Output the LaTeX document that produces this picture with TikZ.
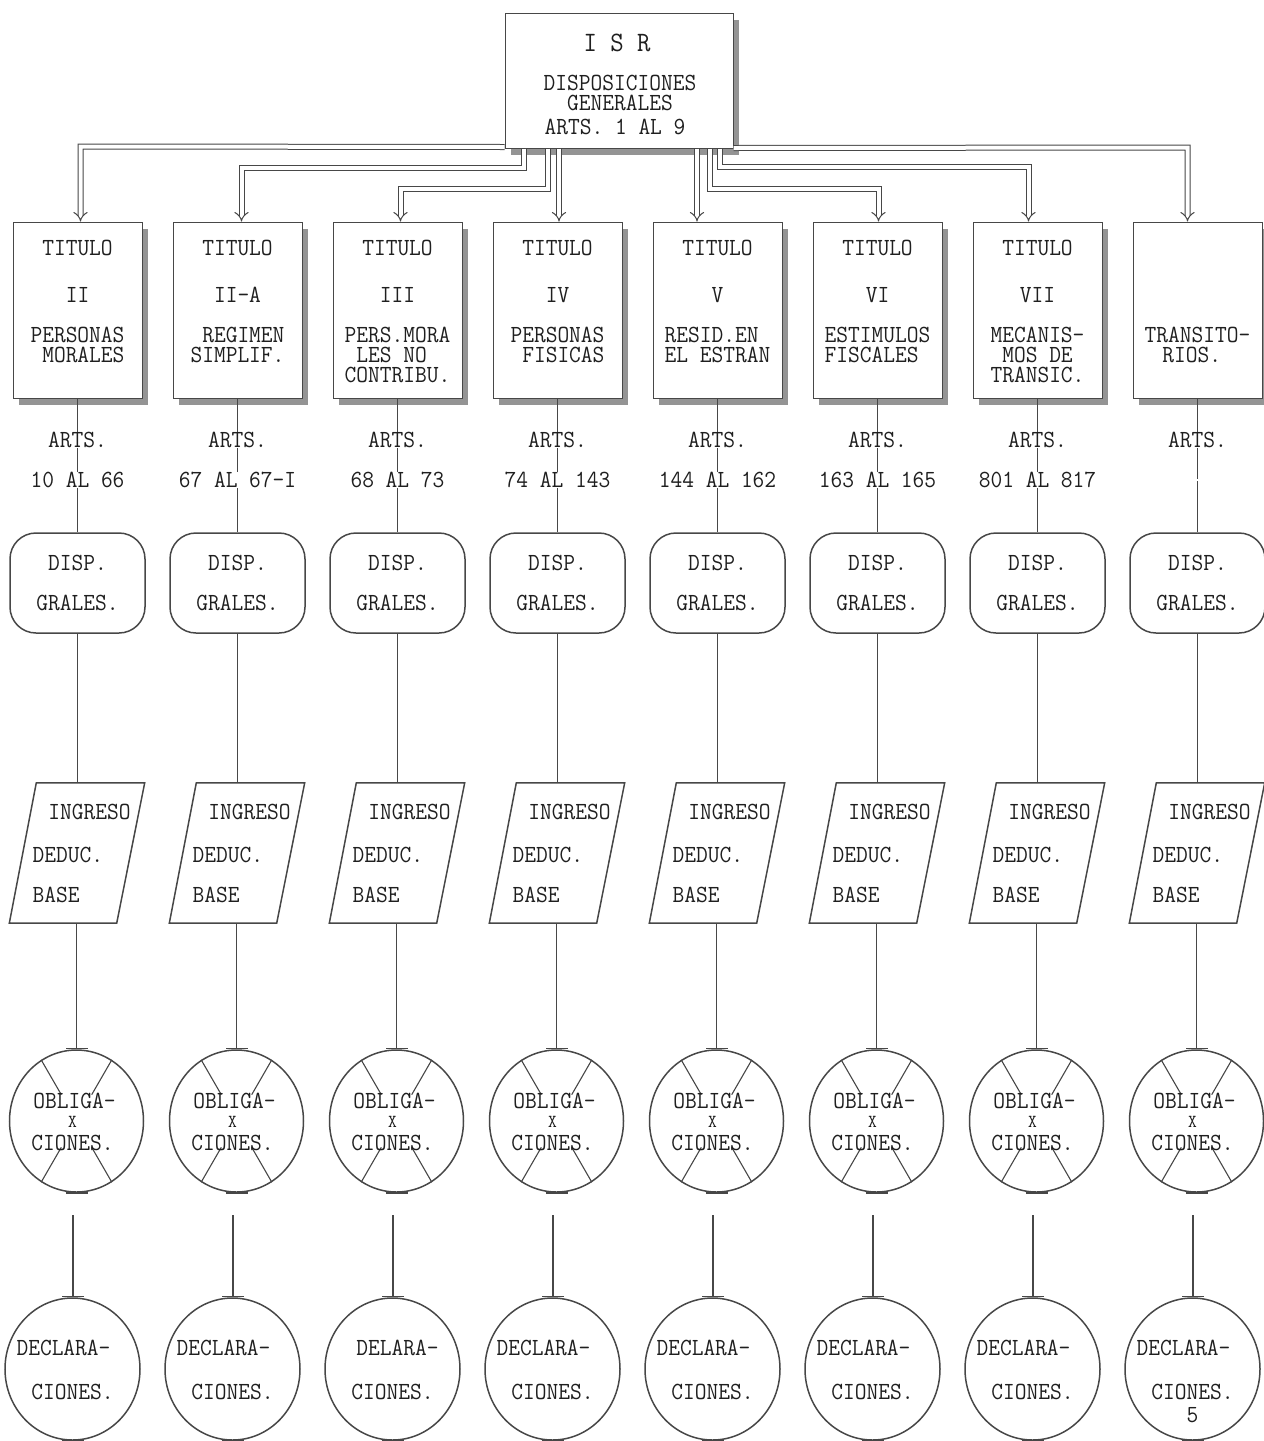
\documentclass[tikz,border=0pt]{standalone}
\usepackage{fontspec}
\usetikzlibrary{arrows.meta,shapes.geometric,shadows,calc}
\newcommand\blk{\hphantom{X}}
\begin{document}
\begin{tikzpicture}[x=1pt,y=-1pt,
  ln/.style={draw=black!72, line width=1.1pt},
  tx/.style={font=\fontsize{22.8}{18.5}\selectfont\ttfamily, text=black!88, inner sep=0pt, align=center, yscale=1.08},
  txw/.style={tx, fill=white},
  shd/.style={drop shadow={shadow xshift=6pt, shadow yshift=-7pt, fill=black!42, opacity=1}},
  titlebox/.style={draw=black!72, line width=1pt, fill=white, shd, minimum width=129pt, minimum height=176pt, inner sep=0pt},
  dispbox/.style={draw=black!72, line width=1.5pt, rounded corners=26pt, minimum width=135pt, minimum height=100pt, inner sep=0pt},
  parbox/.style={draw=none, minimum width=135pt, minimum height=140pt, inner sep=0pt},
  parline/.style={draw=black!72, line width=1.5pt, line join=miter},
  roundbox/.style={ellipse, draw=black!72, line width=1.5pt, minimum width=134pt, minimum height=142pt, inner sep=0pt},
  dbl/.style={draw=black!72, line width=1pt, double=white, double distance=4pt, -{Implies[length=9pt,width=18pt]}},
  tee/.style={ln, -{Bar[width=22pt]}}
]
\useasboundingbox (0,0) rectangle (1264,1441);

% top box
\node[titlebox, minimum width=228pt, minimum height=135pt] (isr) at (619,80.5) {};
\node[tx, font=\fontsize{26}{20}\selectfont\ttfamily] (isrt) at (617,43) {I S R};
\node[tx] (isrd) at (620,83) {DISPOSICIONES};
\node[tx] (isrg) at (620,103) {GENERALES};
\node[tx] (isra) at (615,127) {ARTS. 1 AL 9};

% columns
\foreach \i/\tit/\num/\ta/\ty/\arts/\dec/\dx in {
  1/TITULO/II/{PERSONAS\\\blk MORALES}/345/10 AL 66/DECLARA-/-14,
  2/TITULO/II-A/{\blk REGIMEN\\SIMPLIF.}/345/67 AL 67-I/DECLARA-/-14,
  3/TITULO/III/{PERS.MORA\\\blk LES NO\blk\blk\\CONTRIBU.}/355/68 AL 73/DELARA-/0,
  4/TITULO/IV/{PERSONAS\\\blk FISICAS}/345/74 AL 143/DECLARA-/-14,
  5/TITULO/V/{RESID.EN\blk\\EL ESTRAN}/345/144 AL 162/DECLARA-/-14,
  6/TITULO/VI/{ESTIMULOS\\FISCALES\blk}/345/163 AL 165/DECLARA-/-14,
  7/TITULO/VII/{MECANIS-\\\blk MOS DE\blk\\TRANSIC.}/355/801 AL 817/DECLARA-/-14,
  8/{}/{}/{TRANSITO-\\\blk RIOS.\blk\blk}/345/{}/DECLARA-/-14}
{
  \pgfmathsetmacro\cx{77.5+160*(\i-1)}
  \node[titlebox] (t\i) at (\cx,310) {};
  \node[tx] (tt\i) at (\cx,248) {\tit};
  \node[tx] (tn\i) at (\cx,295) {\num};
  \node[tx] (tl\i) at (\cx,\ty) {\ta};
  \node[dispbox] (d\i) at (\cx,583) {};
  \draw[ln] (t\i.south) -- (d\i.north);
  \node[txw] (ar\i) at (\cx,440) {ARTS.};
  \node[txw] (rg\i) at (\cx,480) {\arts};
  \node[tx] (dd\i) at (\cx,563) {DISP.};
  \node[tx] (dg\i) at (\cx,603) {GRALES.};
  % parallelogram
  \node[parbox] (p\i) at (\cx-0.5,853) {};
  \draw[parline] (p\i.south west) -- ([xshift=-28pt]p\i.south east) -- (p\i.north east) -- ([xshift=27pt]p\i.north west) -- cycle;
  \draw[ln] (d\i.south) -- (p\i.north -| d\i.south);
  \node[tx] (pi\i) at (\cx+12,812) {INGRESO};
  \node[tx, anchor=west] (pd\i) at (\cx-45,855) {DEDUC.};
  \node[tx, anchor=west] (pb\i) at (\cx-45,895) {BASE};
  % obligaciones
  \node[roundbox] (o\i) at (\cx-1,1121) {};
  \coordinate (c\i) at (\cx-1,0);
  \draw[tee] (p\i.south -| c\i) -- (o\i.north -| c\i);
  \foreach \a in {60,120,240,300}
    \draw[ln] ($(o\i.center)!0.43!(o\i.\a)$) -- (o\i.\a);
  \draw[draw=black!72, line width=2pt] ([xshift=-11pt]o\i.south) -- ([xshift=11pt]o\i.south);
  \node[tx] (oa\i) at (\cx-3,1101) {OBLIGA-};
  \node[tx, font=\fontsize{17}{13}\selectfont\ttfamily] (ox\i) at (\cx-5,1122) {X};
  \node[tx] (oc\i) at (\cx-5,1143) {CIONES.};
  % declaraciones
  \node[roundbox, minimum width=135pt] (k\i) at (\cx-5,1369) {};
  \coordinate (e\i) at (\cx-4.5,1215);
  \draw[tee] (e\i) -- (k\i.north -| e\i);
  \draw[draw=black!72, line width=2pt] ([xshift=-11pt]k\i.south) -- ([xshift=11pt]k\i.south);
  \node[tx] (ka\i) at (\cx+\dx,1348) {\dec};
  \node[tx] (kc\i) at (\cx-5,1392) {CIONES.};
}
\node[tx] (k8x) at (1192.5,1415) {5};

% connectors from top box
\coordinate (h1) at (80.5,146.5);
\coordinate (h2) at (241.5,167.5);
\coordinate (h3) at (400.5,189);
\coordinate (h6) at (878.5,189);
\coordinate (h7) at (1028.5,167);
\coordinate (h8) at (1187.5,147.5);
\draw[dbl] ([yshift=1.5pt]isr.south west) -- (h1) -- (t1.north -| h1);
\draw[dbl] ($(isr.south west)+(19,0)$) |- (h2) -- (t2.north -| h2);
\draw[dbl] ($(isr.south west)+(43,0)$) |- (h3) -- (t3.north -| h3);
\draw[dbl] ($(isr.south west)+(54.5,0)$) coordinate (s4) -- (t4.north -| s4);
\draw[dbl] ($(isr.south west)+(192.5,0)$) coordinate (s5) -- (t5.north -| s5);
\draw[dbl] ($(isr.south west)+(205,0)$) |- (h6) -- (t6.north -| h6);
\draw[dbl] ($(isr.south west)+(215.5,0)$) |- (h7) -- (t7.north -| h7);
\draw[dbl] ([yshift=0.5pt]isr.south east) -- (h8) -- (t8.north -| h8);
\end{tikzpicture}
\end{document}
